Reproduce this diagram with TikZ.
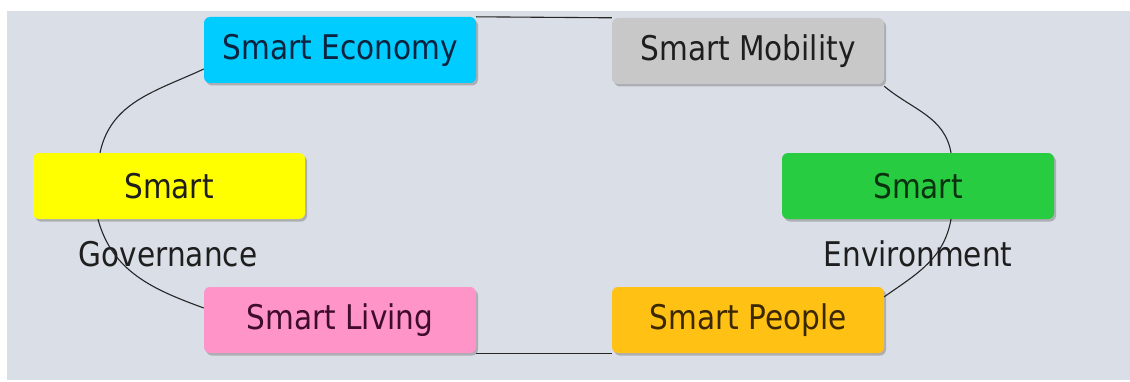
\documentclass[tikz,border=0pt]{standalone}
\usepackage{fontspec}
\setmainfont{DejaVu Sans}[FakeStretch=0.87]
\usetikzlibrary{shadows}
\definecolor{slate}{RGB}{217,222,231}
\definecolor{ecoblue}{RGB}{0,204,255}
\definecolor{mobgray}{RGB}{200,200,200}
\definecolor{govyellow}{RGB}{255,255,0}
\definecolor{envgreen}{RGB}{40,204,64}
\definecolor{livpink}{RGB}{255,148,200}
\definecolor{peoorange}{RGB}{255,194,20}
\definecolor{ecoink}{RGB}{12,36,64}
\definecolor{livink}{RGB}{64,12,44}
\definecolor{peoink}{RGB}{60,40,0}
\definecolor{envink}{RGB}{10,50,16}
\definecolor{inkgray}{RGB}{30,30,30}
\begin{document}
\begin{tikzpicture}[x=1pt,y=1pt,
        tile/.style={rounded corners=6pt, minimum width=272pt, minimum height=66pt,
            font=\fontsize{34}{40}\selectfont, text=inkgray,
            drop shadow={shadow xshift=2pt, shadow yshift=-2.5pt, opacity=0.5}},
        tail/.style={font=\fontsize{34}{40}\selectfont, text=inkgray},
        ring/.style={draw=black!85, line width=1.1pt}]
    \useasboundingbox (0,0) rectangle (1130,381);
    \fill[slate] (7,1) rectangle (1130,370);
    \node[tile, fill=ecoblue, text=ecoink] (eco) at (340,331) {Smart Economy};
    \node[tile, fill=mobgray] (mob) at (748,330) {Smart Mobility};
    \node[tile, fill=govyellow] (gov) at (169,195) {Smart};
    \node[tile, fill=envgreen, text=envink] (env) at (918,195) {Smart};
    \node[tile, fill=livpink, text=livink] (liv) at (340,61) {Smart Living};
    \node[tile, fill=peoorange, text=peoink] (peo) at (748,61) {Smart People};
    \node[tail] (govtail) at (168,127) {Governance};
    \node[tail] (envtail) at (918,127) {Environment};
    \draw[ring] (eco.north east) -- (mob.north west);
    \draw[ring] ([yshift=-2pt]mob.south east) to[out=-40,in=100] ([xshift=33pt]env.north);
    \draw[ring] ([xshift=33pt]env.south) to[out=-100,in=35] ([yshift=-10pt]peo.north east);
    \draw[ring] (peo.south west) -- (liv.south east);
    \draw[ring] ([xshift=-71pt]gov.south) to[out=-75,in=160] ([yshift=12pt]liv.west);
    \draw[ring] ([xshift=-69pt]gov.north) to[out=78,in=205] ([yshift=-19pt]eco.west);
\end{tikzpicture}
\end{document}
